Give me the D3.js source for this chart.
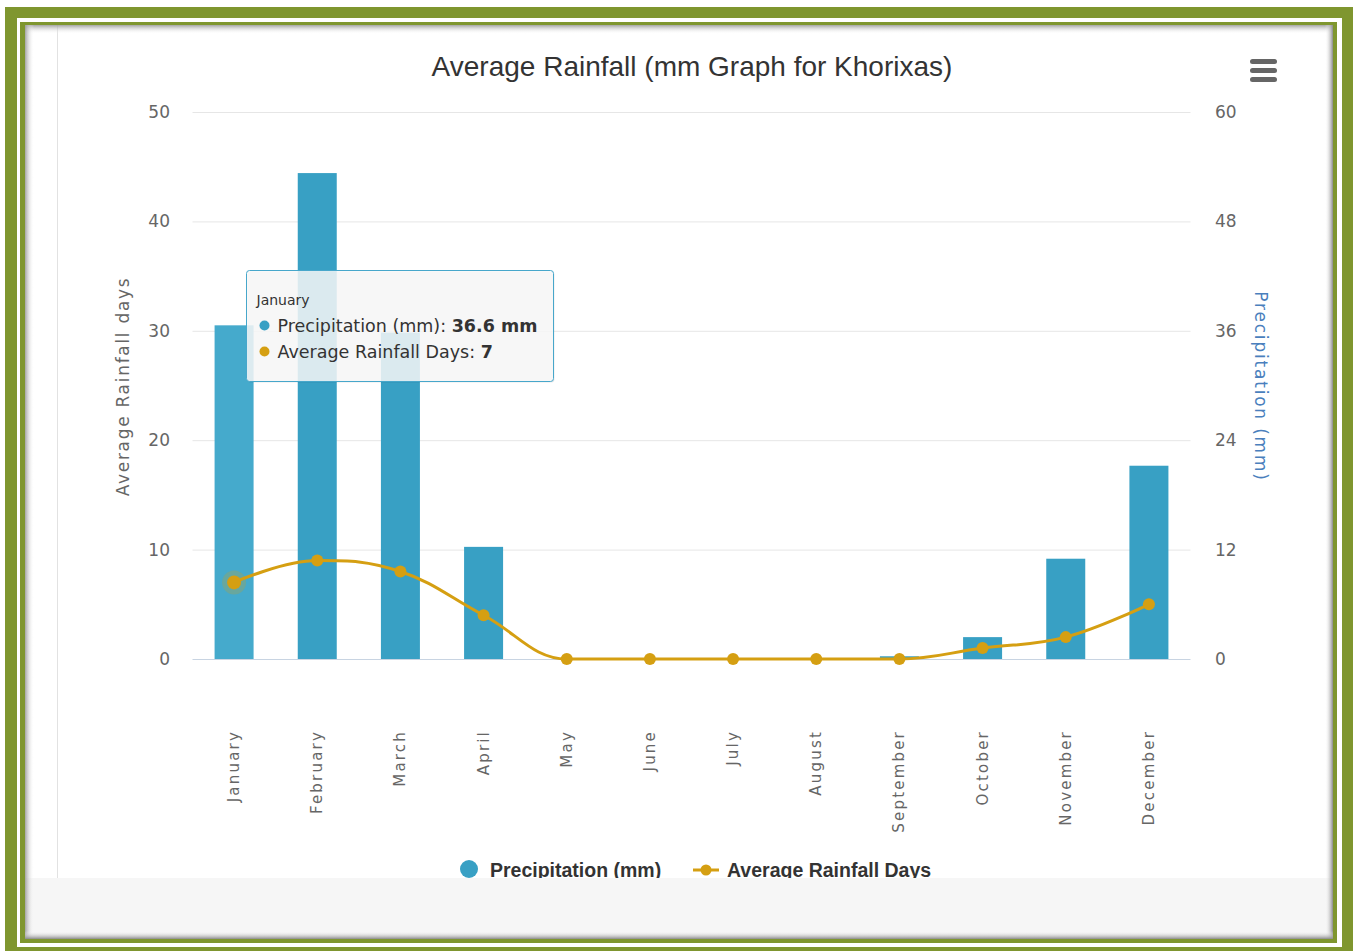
<!DOCTYPE html>
<html>
<head>
<meta charset="utf-8">
<script src="https://cdn.jsdelivr.net/npm/d3@7"></script>
<style>
  body { margin: 0; background: #fff; }
  svg { display: block; }
</style>
</head>
<body>
<svg id="chart" width="1356" height="951"></svg>
<script>
// Monthly climate values for Khorixas
const months = ["January", "February", "March", "April", "May", "June",
                "July", "August", "September", "October", "November", "December"];
const precipitation = [36.6, 53.3, 35.8, 12.3, 0, 0, 0, 0, 0.3, 2.4, 11.0, 21.2];
const rainDays = [7, 9, 8, 4, 0, 0, 0, 0, 0, 1, 2, 5];
const daysTicks = [0, 10, 20, 30, 40, 50];
const precipTicks = [0, 12, 24, 36, 48, 60];
const seriesNames = ["Precipitation (mm)", "Average Rainfall Days"];
const axisTitles = ["Average Rainfall days", "Precipitation (mm)"];
const chartTitle = "Average Rainfall (mm Graph for Khorixas)";
const hoveredIndex = 0;

const barColor = "#38a0c4";
const barHover = "#45aacc";
const lineColor = "#d59f12";
const green = "#7f962f";
const sans = "'DejaVu Sans', Verdana, sans-serif";
const arial = "'Liberation Sans', Arial, sans-serif";

const svg = d3.select("#chart");
const defs = svg.append("defs");

// ---- page frame ----
function grad(id, x2, y2, from, to) {
  const g = defs.append("linearGradient").attr("id", id)
    .attr("x1", 0).attr("y1", 0).attr("x2", x2).attr("y2", y2);
  g.append("stop").attr("offset", 0).attr("stop-color", from[0]).attr("stop-opacity", from[1]);
  g.append("stop").attr("offset", 1).attr("stop-color", to[0]).attr("stop-opacity", to[1]);
}
grad("shTop", 0, 1, ["#9a9a9a", 0.9], ["#ffffff", 0]);
grad("shLeft", 1, 0, ["#9a9a9a", 0.9], ["#ffffff", 0]);
grad("shRight", 1, 0, ["#ffffff", 0], ["#8a8a8a", 1]);
grad("shBottom", 0, 1, ["#ffffff", 0], ["#8a8a8a", 1]);

svg.append("rect").attr("x", 5).attr("y", 7).attr("width", 1348).attr("height", 950).attr("fill", green);
svg.append("rect").attr("x", 17).attr("y", 18).attr("width", 1325).attr("height", 929).attr("fill", "#fff");
svg.append("rect").attr("x", 20).attr("y", 22).attr("width", 1317).attr("height", 921).attr("fill", green);
svg.append("rect").attr("x", 25).attr("y", 25).attr("width", 1308).attr("height", 914).attr("fill", "#fff");

// thin page rule at the left of the chart
svg.append("line").attr("x1", 57.5).attr("x2", 57.5).attr("y1", 25).attr("y2", 880)
  .attr("stroke", "#e2e2e2").attr("stroke-width", 1);

// ---- chart ----
const x = d3.scaleBand().domain(months).range([192.5, 1190.5]);
const yDays = d3.scaleLinear().domain([0, 50]).range([659, 112]);
const yPrecip = d3.scaleLinear().domain([0, 60]).range([659, 112]);
const barW = 39;
const cx = m => x(m) + x.bandwidth() / 2;

// title
svg.append("text").attr("x", 692).attr("y", 76).attr("text-anchor", "middle")
  .attr("font-family", arial).attr("font-size", 28).attr("fill", "#333")
  .text(chartTitle);

// menu icon
svg.append("g").selectAll("rect").data([0, 1, 2]).join("rect")
  .attr("x", 1250).attr("y", d => 59 + d * 9).attr("width", 27).attr("height", 5)
  .attr("rx", 2.5).attr("fill", "#666");

// gridlines
const grid = svg.append("g").attr("transform", "translate(192.5,0)")
  .call(d3.axisLeft(yDays).tickValues(daysTicks).tickSize(-998).tickFormat(""));
grid.select(".domain").remove();
grid.selectAll("line").attr("stroke", "#e6e6e6");
grid.selectAll(".tick").filter(d => d === 0).remove();

// left axis labels
const left = svg.append("g").attr("transform", "translate(192,0)")
  .call(d3.axisLeft(yDays).tickValues(daysTicks).tickSize(0).tickPadding(22));
left.select(".domain").remove();
left.selectAll("text").attr("font-family", sans).attr("font-size", 17).attr("fill", "#666");

// right axis labels
const right = svg.append("g").attr("transform", "translate(1191,0)")
  .call(d3.axisRight(yPrecip).tickValues(precipTicks).tickSize(0).tickPadding(24));
right.select(".domain").remove();
right.selectAll("text").attr("font-family", sans).attr("font-size", 17).attr("fill", "#666");

// axis titles
svg.append("text").attr("transform", "translate(129,386.5) rotate(-90)")
  .attr("text-anchor", "middle").attr("font-family", sans).attr("font-size", 17)
  .attr("letter-spacing", 1.7).attr("fill", "#666").text(axisTitles[0]);
svg.append("text").attr("transform", "translate(1255,386.5) rotate(90)")
  .attr("text-anchor", "middle").attr("font-family", sans).attr("font-size", 17)
  .attr("letter-spacing", 1.8).attr("fill", "#4a7fbd").text(axisTitles[1]);

// x axis
const xAxis = svg.append("g").attr("transform", "translate(0,659)")
  .call(d3.axisBottom(x).tickSize(0));
xAxis.select(".domain").attr("stroke", "#c8d4e2").attr("d", "M192.5,0.5H1190.5");
xAxis.selectAll("text")
  .attr("transform", "translate(5,71) rotate(-90)")
  .attr("x", 0).attr("y", 0).attr("dy", 0)
  .attr("text-anchor", "end")
  .attr("font-family", sans).attr("font-size", 15).attr("letter-spacing", 2.2)
  .attr("fill", "#666");

// bars
svg.append("g").selectAll("rect").data(precipitation).join("rect")
  .attr("x", (d, i) => cx(months[i]) - barW / 2)
  .attr("width", barW)
  .attr("y", d => yPrecip(d))
  .attr("height", d => yPrecip(0) - yPrecip(d))
  .attr("fill", (d, i) => i === hoveredIndex ? barHover : barColor);

// spline through the rain-day points
function splinePath(pts) {
  const n = pts.length;
  const cont = pts.map(() => null);
  for (let i = 1; i < n - 1; i++) {
    const [px, py] = pts[i], [lx, ly] = pts[i - 1], [nx, ny] = pts[i + 1];
    const s = 1.5, den = s + 1;
    const lcx = (s * px + lx) / den, rcx = (s * px + nx) / den;
    let lcy = (s * py + ly) / den, rcy = (s * py + ny) / den;
    if (rcx !== lcx) {
      const corr = ((rcy - lcy) * (rcx - px)) / (rcx - lcx) + py - rcy;
      lcy += corr; rcy += corr;
    }
    if (lcy > ly && lcy > py) { lcy = Math.max(ly, py); rcy = 2 * py - lcy; }
    else if (lcy < ly && lcy < py) { lcy = Math.min(ly, py); rcy = 2 * py - lcy; }
    if (rcy > ny && rcy > py) { rcy = Math.max(ny, py); lcy = 2 * py - rcy; }
    else if (rcy < ny && rcy < py) { rcy = Math.min(ny, py); lcy = 2 * py - rcy; }
    cont[i] = { lcx, lcy, rcx, rcy };
  }
  const p = d3.path();
  p.moveTo(pts[0][0], pts[0][1]);
  for (let i = 1; i < n; i++) {
    const a = cont[i - 1], b = cont[i];
    p.bezierCurveTo(a ? a.rcx : pts[i - 1][0], a ? a.rcy : pts[i - 1][1],
                    b ? b.lcx : pts[i][0], b ? b.lcy : pts[i][1],
                    pts[i][0], pts[i][1]);
  }
  return p.toString();
}
const linePts = rainDays.map((d, i) => [cx(months[i]), yDays(d)]);
svg.append("path").attr("d", splinePath(linePts))
  .attr("fill", "none").attr("stroke", lineColor).attr("stroke-width", 3);

// markers
svg.append("circle").attr("cx", cx(months[hoveredIndex])).attr("cy", yDays(rainDays[hoveredIndex]))
  .attr("r", 12).attr("fill", lineColor).attr("opacity", 0.25);
svg.append("g").selectAll("circle").data(rainDays).join("circle")
  .attr("cx", (d, i) => cx(months[i])).attr("cy", d => yDays(d))
  .attr("r", (d, i) => i === hoveredIndex ? 7 : 6)
  .attr("fill", lineColor);

// legend
const legend = svg.append("g").attr("font-family", arial).attr("font-weight", "bold")
  .attr("font-size", 19.5).attr("fill", "#333");
legend.append("circle").attr("cx", 469).attr("cy", 869).attr("r", 9).attr("fill", barColor);
legend.append("text").attr("x", 490).attr("y", 877).text(seriesNames[0]);
legend.append("line").attr("x1", 693).attr("x2", 719).attr("y1", 870).attr("y2", 870)
  .attr("stroke", lineColor).attr("stroke-width", 3);
legend.append("circle").attr("cx", 706).attr("cy", 870).attr("r", 5.5).attr("fill", lineColor);
legend.append("text").attr("x", 727).attr("y", 877).text(seriesNames[1]);

// footer band of the page covering the lower part of the chart
svg.append("rect").attr("x", 25).attr("y", 878).attr("width", 1308).attr("height", 61).attr("fill", "#f6f6f6");

// inset shading of the panel
svg.append("rect").attr("x", 25).attr("y", 25).attr("width", 1308).attr("height", 9).attr("fill", "url(#shTop)");
svg.append("rect").attr("x", 25).attr("y", 25).attr("width", 9).attr("height", 914).attr("fill", "url(#shLeft)");
svg.append("rect").attr("x", 1325).attr("y", 25).attr("width", 8).attr("height", 914).attr("fill", "url(#shRight)");
svg.append("rect").attr("x", 25).attr("y", 931).attr("width", 1308).attr("height", 8).attr("fill", "url(#shBottom)");

// tooltip for the hovered month
const tip = svg.append("g").attr("transform", "translate(246.5,270.5)");
tip.append("rect").attr("x", 1).attr("y", 1).attr("width", 307).attr("height", 111).attr("rx", 3)
  .attr("fill", "#000").attr("opacity", 0.08);
tip.append("rect").attr("width", 307).attr("height", 111).attr("rx", 3)
  .attr("fill", "rgba(249,249,249,0.85)").attr("stroke", "#47a7cb").attr("stroke-width", 1);
tip.append("text").attr("x", 10).attr("y", 34).attr("font-family", sans).attr("font-size", 14)
  .attr("fill", "#333").text(months[hoveredIndex]);
const tipRows = [
  { color: barColor, label: seriesNames[0] + ": ", value: d3.format(".1f")(precipitation[hoveredIndex]) + " mm" },
  { color: lineColor, label: seriesNames[1] + ": ", value: String(rainDays[hoveredIndex]) }
];
tipRows.forEach((r, i) => {
  const yy = 61 + i * 26;
  tip.append("circle").attr("cx", 18).attr("cy", yy - 6).attr("r", 5).attr("fill", r.color);
  const t = tip.append("text").attr("x", 31).attr("y", yy).attr("font-family", sans)
    .attr("font-size", 17.5).attr("fill", "#333");
  t.append("tspan").text(r.label);
  t.append("tspan").attr("font-weight", "bold").text(r.value);
});
</script>
</body>
</html>
